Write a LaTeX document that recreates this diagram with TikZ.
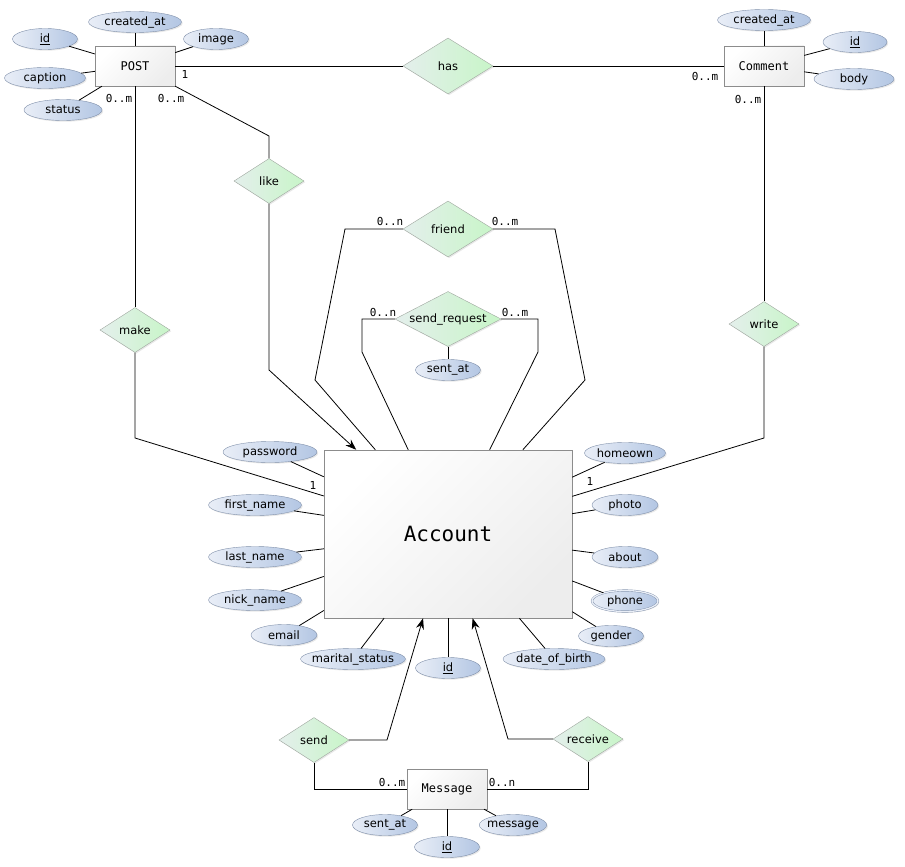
\documentclass[tikz,border=0pt]{standalone}
\usepackage{fontspec}
\setmainfont{DejaVu Sans}
\newfontfamily\erfmono{DejaVu Sans Mono}
\usepackage{xcolor}
\usetikzlibrary{arrows.meta,shapes.geometric,shadows}

\definecolor{attrL}{HTML}{E9EEF7}
\definecolor{attrR}{HTML}{B3C6E3}
\definecolor{attrDraw}{HTML}{8090AA}
\definecolor{relL}{HTML}{E4EFEC}
\definecolor{relR}{HTML}{C8F5C8}
\definecolor{relDraw}{HTML}{9EA69E}
\definecolor{entR}{HTML}{EDEDED}
\definecolor{entDraw}{HTML}{8C8C8C}

\begin{document}
\begin{tikzpicture}[x=1pt,y=-1pt,>={Stealth[length=11pt,width=8pt]},
  shade/.style={drop shadow={shadow xshift=1.2pt,shadow yshift=-1.2pt,opacity=0.18}},
  attr/.style={ellipse,draw=attrDraw,left color=attrL,right color=attrR,shade,
               inner xsep=-2pt,inner ysep=0pt,minimum height=21pt,
               font=\fontsize{11.5}{13}\selectfont},
  rel/.style={diamond,aspect=1.6,draw=relDraw,left color=relL,right color=relR,shade,
              inner sep=0pt,minimum width=70pt,minimum height=45pt,
              font=\fontsize{11.5}{13}\selectfont},
  entity/.style={rectangle,draw=entDraw,top color=white,bottom color=entR,
                 shading angle=45,shade,minimum width=80pt,minimum height=40pt,
                 font=\erfmono\fontsize{12}{14}\selectfont},
  card/.style={inner sep=0pt,font=\erfmono\fontsize{11}{12}\selectfont},
  link/.style={draw=black,line width=0.8pt}]
  \useasboundingbox (0,0) rectangle (905,867);

  % entities
  \node[entity] (post) at (135,66) {POST};
  \node[entity] (comment) at (764,66) {Comment};
  \node[entity,minimum width=248pt,minimum height=168pt,
        font=\erfmono\fontsize{21}{24}\selectfont] (account) at (448,534) {Account};
  \node[entity] (message) at (447,789) {Message};

  % relationships
  \node[rel,minimum width=90pt,minimum height=56pt] (has) at (448,66) {has};
  \node[rel] (like) at (269,181) {like};
  \node[rel] (make) at (135,330) {make};
  \node[rel] (write) at (764,324) {write};
  \node[rel,minimum width=90pt,minimum height=56pt] (friend) at (448,229) {friend};
  \node[rel,aspect=1.95,minimum width=106pt,minimum height=55pt] (sendreq) at (448,319) {send\_request};
  \node[rel] (send) at (314,740) {send};
  \node[rel] (receive) at (588,739) {receive};

  % attributes of POST
  \node[attr,minimum width=93pt] (post-created) at (135,22) {created\_at};
  \node[attr,minimum width=65pt] (post-id) at (45,39) {\underline{id}};
  \node[attr,minimum width=65pt] (post-image) at (216,39) {image};
  \node[attr,minimum width=81pt] (post-caption) at (45,78) {caption};
  \node[attr,minimum width=78pt] (post-status) at (63,110) {status};

  % attributes of Comment
  \node[attr,minimum width=93pt] (com-created) at (764,20) {created\_at};
  \node[attr,minimum width=64pt] (com-id) at (855,42) {\underline{id}};
  \node[attr,minimum width=80pt] (com-body) at (854,79) {body};

  % attributes of Account
  \node[attr,minimum width=94pt] (acc-pw) at (270,452) {password};
  \node[attr,minimum width=93pt] (acc-first) at (255,505) {first\_name};
  \node[attr,minimum width=93pt] (acc-last) at (255,557) {last\_name};
  \node[attr,minimum width=93pt] (acc-nick) at (255,600) {nick\_name};
  \node[attr,minimum width=66pt] (acc-email) at (284,635) {email};
  \node[attr,minimum width=105pt,inner xsep=-4pt] (acc-marital) at (353,659) {marital\_status};
  \node[attr,minimum width=65pt] (acc-id) at (448,668) {\underline{id}};
  \node[attr,minimum width=102pt] (acc-dob) at (554,659) {date\_of\_birth};
  \node[attr,minimum width=65pt] (acc-gender) at (611,636) {gender};
  \node[attr,minimum width=66pt,double=attrL,double distance=1.3pt] (acc-phone) at (625,601) {phone};
  \node[attr,minimum width=66pt] (acc-about) at (625,557) {about};
  \node[attr,minimum width=66pt] (acc-photo) at (625,505) {photo};
  \node[attr,minimum width=81pt] (acc-home) at (625,453) {homeown};

  % attributes of send_request and Message
  \node[attr,minimum width=65pt] (sr-at) at (448,370) {sent\_at};
  \node[attr,minimum width=65pt] (msg-sent) at (385,825) {sent\_at};
  \node[attr,minimum width=65pt] (msg-id) at (447,847) {\underline{id}};
  \node[attr,minimum width=66pt] (msg-text) at (513,825) {message};

  % attribute lines
  \draw[link] (post) -- (post-created);
  \draw[link] (post) -- (post-id);
  \draw[link] (post) -- (post-image);
  \draw[link] (post) -- (post-caption);
  \draw[link] (post) -- (post-status);
  \draw[link] (comment) -- (com-created);
  \draw[link] (comment) -- (com-id);
  \draw[link] (comment) -- (com-body);
  \draw[link] (account) -- (acc-pw);
  \draw[link] (account) -- (acc-first);
  \draw[link] (account) -- (acc-last);
  \draw[link] (account) -- (acc-nick);
  \draw[link] (account) -- (acc-email);
  \draw[link] (account) -- (acc-marital);
  \draw[link] (account) -- (acc-id);
  \draw[link] (account) -- (acc-dob);
  \draw[link] (account) -- (acc-gender);
  \draw[link] (account) -- (acc-phone);
  \draw[link] (account) -- (acc-about);
  \draw[link] (account) -- (acc-photo);
  \draw[link] (account) -- (acc-home);
  \draw[link] (sendreq) -- (sr-at);
  \draw[link] (message) -- (msg-sent);
  \draw[link] (message) -- (msg-id);
  \draw[link] (message) -- (msg-text);

  % bends
  \coordinate (like-b1) at (269,136);
  \coordinate (like-b2) at (269,370);
  \coordinate (make-b) at (135,438);
  \coordinate (write-b) at (764,438);
  \coordinate (fr-l1) at (345,229);
  \coordinate (fr-l2) at (315,380);
  \coordinate (fr-r1) at (555,229);
  \coordinate (fr-r2) at (585,380);
  \coordinate (sr-l1) at (362,319);
  \coordinate (sr-l2) at (362,352);
  \coordinate (sr-r1) at (538,319);
  \coordinate (sr-r2) at (538,352);
  \coordinate (send-b1) at (314,789);
  \coordinate (send-b2) at (387,740);
  \coordinate (recv-b1) at (588,789);
  \coordinate (recv-b2) at (508,739);

  % relationship lines
  \draw[link] (post) -- (has);
  \draw[link] (has) -- (comment);
  \draw[link] (post) -- (make);
  \draw[link] (make) -- (make-b) -- (account);
  \draw[link] (post.south east) -- (like-b1) -- (like);
  \draw[link,->] (like) -- (like-b2) -- (account);
  \draw[link] (friend) -- (fr-l1) -- (fr-l2) -- (account);
  \draw[link] (friend) -- (fr-r1) -- (fr-r2) -- (account);
  \draw[link] (sendreq) -- (sr-l1) -- (sr-l2) -- (account);
  \draw[link] (sendreq) -- (sr-r1) -- (sr-r2) -- (account);
  \draw[link] (comment) -- (write);
  \draw[link] (write) -- (write-b) -- (account);
  \draw[link] (message) -- (send-b1) -- (send);
  \draw[link,->] (send) -- (send-b2) -- (account);
  \draw[link] (message) -- (recv-b1) -- (receive);
  \draw[link,->] (receive) -- (recv-b2) -- (account);

  % cardinalities
  \node[card] (c-post-has) at (185,74) {1};
  \node[card] (c-com-has) at (705,76) {0..m};
  \node[card] (c-post-make) at (119,98) {0..m};
  \node[card] (c-post-like) at (171,98) {0..m};
  \node[card] (c-com-write) at (748,99) {0..m};
  \node[card] (c-acc-make) at (313,485) {1};
  \node[card] (c-acc-write) at (590,481) {1};
  \node[card] (c-fr-l) at (390,221) {0..n};
  \node[card] (c-fr-r) at (505,221) {0..m};
  \node[card] (c-sr-l) at (383,312) {0..n};
  \node[card] (c-sr-r) at (515,312) {0..m};
  \node[card] (c-msg-send) at (392,782) {0..m};
  \node[card] (c-msg-recv) at (502,782) {0..n};
\end{tikzpicture}
\end{document}
